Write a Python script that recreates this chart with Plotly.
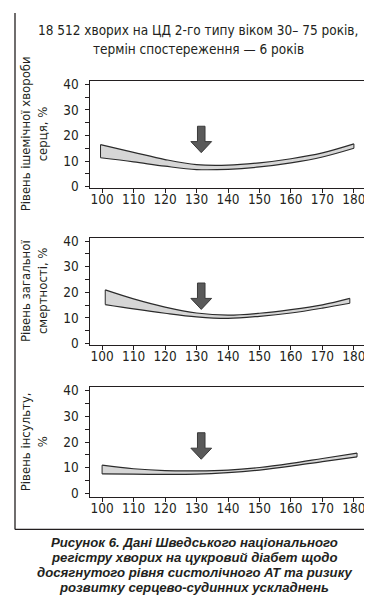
import plotly.graph_objects as go

W, H = 372, 597
FONT = "DejaVu Sans Condensed, Liberation Sans, Arial, sans-serif"
CAP_FONT = "Liberation Sans, Arial, sans-serif"
INK = "#231f20"

# ---- data ----
TITLE_LINES = ["18 512 хворих на ЦД 2-го типу віком 30– 75 років,",
               "термін спостереження — 6 років"]
CAPTION_LINES = ["Рисунок 6. Дані Шведського національного",
                 "регістру хворих на цукровий діабет щодо",
                 "досягнутого рівня систолічного АТ та ризику",
                 "розвитку серцево-судинних ускладнень"]

X_TICKS = [100, 110, 120, 130, 140, 150, 160, 170, 180]
Y_TICKS = [0, 10, 20, 30, 40]

SBP_IHD = [99.5, 110, 120, 130, 140, 150, 160, 170, 180]
IHD_UPPER = [16.4, 13.4, 10.6, 8.6, 8.4, 9.3, 10.9, 13.2, 16.7]
IHD_LOWER = [11.3, 9.7, 8.0, 6.7, 6.8, 7.7, 9.3, 11.6, 15.0]

SBP_MORT = [101, 110, 120, 130, 140, 150, 160, 170, 178.7]
MORT_UPPER = [20.9, 17.4, 14.2, 11.9, 11.1, 11.8, 13.2, 15.1, 17.6]
MORT_LOWER = [15.2, 13.5, 11.8, 10.4, 9.8, 10.6, 11.9, 13.8, 15.7]

SBP_STROKE = [100, 110, 120, 130, 140, 150, 160, 170, 181]
STROKE_UPPER = [11.0, 9.6, 8.9, 8.8, 9.1, 10.1, 11.7, 13.6, 15.7]
STROKE_LOWER = [7.6, 7.5, 7.4, 7.5, 8.1, 9.1, 10.6, 12.4, 14.2]

Y_TITLES = [["Рівень ішемічної хвороби", "серця, %"],
            ["Рівень загальної", "смертності, %"],
            ["Рівень інсульту,", "%"]]

# arrow marking the optimal SBP (~130 mm Hg)
ARROW_X = 131.5
ARROW_TOP, ARROW_NECK, ARROW_TIP = 23.6, 17.6, 13.3
ARROW_SHAFT_HW, ARROW_HEAD_HW = 1.2, 3.3

PANELS = [(SBP_IHD, IHD_UPPER, IHD_LOWER),
          (SBP_MORT, MORT_UPPER, MORT_LOWER),
          (SBP_STROKE, STROKE_UPPER, STROKE_LOWER)]

# ---- layout geometry (pixels) ----
X_LEFT, X_RIGHT = 81.5, 358.5
PANEL_PX = [(69.3, 178.3), (229.3, 338.3), (382.0, 494.0)]
Y_RANGES = [[-0.4, 41.3], [-0.4, 41.3], [-1.4, 41.25]]


def px(x):
    return x / W


def py(y):
    return 1 - y / H


fig = go.Figure()
BAND_FILL = "#d6d6d6"
BAND_LINE = "#2b2b2b"

for i, (xs, up, lo) in enumerate(PANELS):
    sfx = "" if i == 0 else str(i + 1)
    xa, ya = "x" + sfx, "y" + sfx
    fig.add_trace(go.Scatter(x=xs, y=lo, mode="lines", xaxis=xa, yaxis=ya,
                             line=dict(color=BAND_LINE, width=1.2, shape="spline", smoothing=1.0),
                             hoverinfo="skip", showlegend=False))
    fig.add_trace(go.Scatter(x=xs, y=up, mode="lines", xaxis=xa, yaxis=ya,
                             fill="tonexty", fillcolor=BAND_FILL,
                             line=dict(color=BAND_LINE, width=1.2, shape="spline", smoothing=1.0),
                             hoverinfo="skip", showlegend=False))
    # end caps of the band
    fig.add_trace(go.Scatter(x=[xs[0], xs[0], None, xs[-1], xs[-1]],
                             y=[up[0], lo[0], None, up[-1], lo[-1]],
                             mode="lines", xaxis=xa, yaxis=ya,
                             line=dict(color=BAND_LINE, width=1.0),
                             hoverinfo="skip", showlegend=False))
    # block arrow
    ax = [ARROW_X - ARROW_SHAFT_HW, ARROW_X + ARROW_SHAFT_HW, ARROW_X + ARROW_SHAFT_HW,
          ARROW_X + ARROW_HEAD_HW, ARROW_X, ARROW_X - ARROW_HEAD_HW,
          ARROW_X - ARROW_SHAFT_HW, ARROW_X - ARROW_SHAFT_HW]
    ay = [ARROW_TOP, ARROW_TOP, ARROW_NECK, ARROW_NECK, ARROW_TIP, ARROW_NECK,
          ARROW_NECK, ARROW_TOP]
    fig.add_trace(go.Scatter(x=ax, y=ay, mode="lines", fill="toself", fillcolor="#5a5a5a",
                             xaxis=xa, yaxis=ya, line=dict(color="#3a3a3a", width=1),
                             hoverinfo="skip", showlegend=False))

axis_common = dict(showline=True, linecolor=INK, linewidth=1, mirror=True,
                   ticks="outside", tickcolor=INK, ticklen=4, tickwidth=1,
                   showgrid=False, zeroline=False,
                   tickfont=dict(family=FONT, size=13.5, color=INK))

layout = dict(width=W, height=H, margin=dict(l=0, r=0, t=0, b=0),
              paper_bgcolor="white", plot_bgcolor="white", showlegend=False)

for i, (top, bot) in enumerate(PANEL_PX):
    sfx = "" if i == 0 else str(i + 1)
    layout["xaxis" + sfx] = dict(axis_common, domain=[px(X_LEFT), px(X_RIGHT)],
                                 range=[96, 184], tickvals=X_TICKS,
                                 ticktext=[str(v) for v in X_TICKS],
                                 anchor="y" + sfx)
    layout["yaxis" + sfx] = dict(axis_common, domain=[py(bot), py(top)],
                                 range=Y_RANGES[i], tickvals=Y_TICKS,
                                 ticktext=[str(v) for v in Y_TICKS],
                                 anchor="x" + sfx, ticklabelstandoff=3,
                                 minor=dict(dtick=5, ticks="outside", ticklen=4,
                                            tickcolor=INK, tickwidth=1))

fig.update_layout(**layout)

# pull x tick labels a little closer to the axis
for i in range(3):
    name = "xaxis" if i == 0 else "xaxis" + str(i + 1)
    try:
        fig.layout[name].ticklabelstandoff = -5
    except Exception:
        fig.layout[name].ticklabelstandoff = 0

ann = []
for txt, yc in zip(TITLE_LINES, [17, 37]):
    ann.append(dict(text=txt, x=px(190), y=py(yc), xref="paper", yref="paper",
                    xanchor="center", yanchor="middle", showarrow=False,
                    font=dict(family=FONT, size=13.5, color=INK)))
for i, (top, bot) in enumerate(PANEL_PX):
    yc = (top + bot) / 2
    for txt, xc in zip(Y_TITLES[i], [17, 34]):
        ann.append(dict(text=txt, x=px(xc), y=py(yc), xref="paper", yref="paper",
                        xanchor="center", yanchor="middle", showarrow=False,
                        textangle=-90, font=dict(family=FONT, size=13, color=INK)))
for txt, yc in zip(CAPTION_LINES, [540, 555.5, 571, 586.5]):
    ann.append(dict(text="<b><i>" + txt + "</i></b>", x=px(186), y=py(yc),
                    xref="paper", yref="paper", xanchor="center", yanchor="middle",
                    showarrow=False, font=dict(family=CAP_FONT, size=13.2, color=INK)))
fig.update_layout(annotations=ann)

# outer frame (left, right, bottom)
frame = dict(type="line", xref="paper", yref="paper", line=dict(color=INK, width=1.3))
fig.update_layout(shapes=[
    dict(frame, x0=px(7), x1=px(7), y0=1, y1=py(527)),
    dict(frame, x0=px(366.5), x1=px(366.5), y0=1, y1=py(527)),
    dict(frame, x0=px(7), x1=px(366.5), y0=py(527), y1=py(527)),
])

fig.write_html("out.html")
